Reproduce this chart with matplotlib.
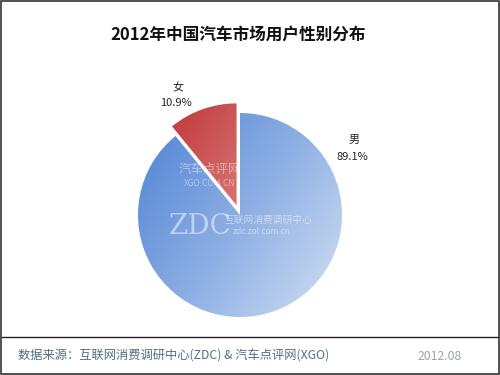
import numpy as np
import matplotlib.pyplot as plt
from matplotlib.colors import LinearSegmentedColormap
from matplotlib.patches import Rectangle

plt.rcParams['font.family'] = ['Noto Sans CJK SC', 'DejaVu Sans']

title = '2012年中国汽车市场用户性别分布'
labels = ['男', '女']
shares = [89.1, 10.9]
explode = [0, 0.1]
source = '数据来源：互联网消费调研中心(ZDC) & 汽车点评网(XGO)'
date_text = '2012.08'

fig = plt.figure(figsize=(5, 3.75), dpi=100)
W, H = 500, 375

# frame around the picture
fig.add_artist(Rectangle((0.002, 0.003), 0.995, 0.994, transform=fig.transFigure,
                         fill=False, edgecolor='#333333', linewidth=1.2))

fig.text(238 / W, 1 - 35 / H, title, ha='center', va='center',
         fontsize=12, fontweight='bold', color='#111111')

# pie axes: centre (240, 215) px, radius 102 px
ax = fig.add_axes([(240 - 130) / W, (H - 215 - 130) / H, 260 / W, 260 / H])
lim = 130 / 102
ax.axis('off')

wedges, _ = ax.pie(shares, explode=explode, startangle=90, counterclock=False,
                   radius=1, wedgeprops=dict(linewidth=0))

cmaps = [
    LinearSegmentedColormap.from_list('blue', ['#5a8ad6', '#8fb0e4', '#cddcf2']),
    LinearSegmentedColormap.from_list('red', ['#c0383a', '#d87878', '#efc0c0']),
]

# diagonal gradient from upper left to lower right
gx, gy = np.meshgrid(np.linspace(-1, 1, 200), np.linspace(1, -1, 200))
grad = (gx - 0.7 * gy) / 1.7
for w, cm in zip(wedges, cmaps):
    w.set_facecolor('none')
    x0, y0 = w.center
    im = ax.imshow(grad, cmap=cm, extent=[x0 - 1, x0 + 1, y0 - 1, y0 + 1],
                   vmin=-0.8, vmax=0.9, zorder=1, interpolation='bilinear')
    im.set_clip_path(w)

ax.set_xlim(-lim, lim)
ax.set_ylim(-lim, lim)
ax.set_aspect('equal')

# slice labels
fig.text(354 / W, 1 - 140 / H, labels[0], ha='center', va='center', fontsize=8, color='#222222')
fig.text(352 / W, 1 - 157 / H, f'{shares[0]}%', ha='center', va='center', fontsize=8, color='#222222')
fig.text(178 / W, 1 - 88 / H, labels[1], ha='center', va='center', fontsize=8, color='#222222')
fig.text(176 / W, 1 - 103 / H, f'{shares[1]}%', ha='center', va='center', fontsize=8, color='#222222')

# watermarks
fig.text(210 / W, 1 - 170 / H, '汽车点评网', ha='center', va='center', fontsize=9,
         color='white', alpha=0.45)
fig.text(210 / W, 1 - 183 / H, 'XGO.COM.CN', ha='center', va='center', fontsize=6,
         color='white', alpha=0.45)
fig.text(200 / W, 1 - 226 / H, 'ZDC', ha='center', va='center', fontsize=20,
         color='white', alpha=0.5, family='DejaVu Serif')
fig.text(268 / W, 1 - 220 / H, '互联网消费调研中心', ha='center', va='center', fontsize=7,
         color='white', alpha=0.5)
fig.text(262 / W, 1 - 232 / H, 'zdc.zol.com.cn', ha='center', va='center', fontsize=6,
         color='white', alpha=0.5)

# footer
fig.add_artist(plt.Line2D([0.004, 0.996], [1 - 337 / H, 1 - 337 / H], transform=fig.transFigure,
                          color='#222222', linewidth=1))
fig.text(18 / W, 1 - 356 / H, source, ha='left', va='center', fontsize=8.8, color='#4e7080')
fig.text(418 / W, 1 - 356 / H, date_text, ha='left', va='center', fontsize=8.8, color='#9aa4aa')

fig.savefig('out.png', dpi=100)
